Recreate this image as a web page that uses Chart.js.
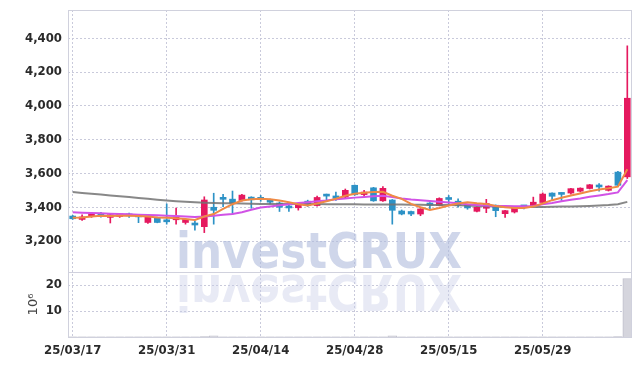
<!DOCTYPE html>
<html>
<head>
<meta charset="utf-8">
<script src="https://cdn.jsdelivr.net/npm/chart.js@4.4.1/dist/chart.umd.min.js"></script>
<style>
  html, body { margin: 0; padding: 0; background: #fff; }
  #wrap { width: 642px; height: 366px; }
</style>
</head>
<body>
<div id="wrap"><canvas id="chart"></canvas></div>
<script>
// ---- data ----
const dates = [
  '25/03/17', '25/03/18', '25/03/19', '25/03/20', '25/03/21', '25/03/24', '25/03/25', '25/03/26', '25/03/27', '25/03/28',
  '25/03/31', '25/04/01', '25/04/02', '25/04/03', '25/04/04', '25/04/07', '25/04/08', '25/04/09', '25/04/10', '25/04/11',
  '25/04/14', '25/04/15', '25/04/16', '25/04/17', '25/04/18', '25/04/21', '25/04/22', '25/04/23', '25/04/24', '25/04/25',
  '25/04/28', '25/04/29', '25/04/30', '25/05/02', '25/05/07', '25/05/08', '25/05/09', '25/05/12', '25/05/13', '25/05/14',
  '25/05/15', '25/05/16', '25/05/19', '25/05/20', '25/05/21', '25/05/22', '25/05/23', '25/05/26', '25/05/27', '25/05/28',
  '25/05/29', '25/05/30', '25/06/02', '25/06/04', '25/06/05', '25/06/09', '25/06/10', '25/06/11', '25/06/12', '25/06/13'
];

const opens = [
  3348, 3328, 3345, 3360, 3340, 3345, 3352, 3346, 3310, 3340,
  3325, 3326, 3310, 3305, 3285, 3400, 3450, 3448, 3440, 3460,
  3458, 3435, 3425, 3404, 3397, 3436, 3410, 3470, 3467, 3460,
  3530, 3475, 3515, 3438, 3443, 3378, 3375, 3360, 3425, 3410,
  3450, 3436, 3412, 3376, 3394, 3412, 3362, 3372, 3405, 3408,
  3428, 3484, 3480, 3484, 3495, 3511, 3524, 3500, 3608, 3580
];
const highs = [
  3352, 3355, 3366, 3370, 3360, 3364, 3365, 3350, 3350, 3342,
  3420, 3395, 3330, 3320, 3462, 3483, 3477, 3496, 3476, 3462,
  3470, 3448, 3432, 3415, 3420, 3442, 3466, 3478, 3490, 3508,
  3532, 3500, 3518, 3522, 3446, 3384, 3378, 3392, 3428, 3456,
  3470, 3450, 3416, 3402, 3447, 3414, 3382, 3404, 3412, 3460,
  3485, 3486, 3486, 3512, 3515, 3535, 3540, 3527, 3612, 4355
];
const lows = [
  3328, 3322, 3340, 3342, 3307, 3340, 3340, 3309, 3305, 3308,
  3300, 3300, 3300, 3265, 3250, 3300, 3404, 3358, 3436, 3394,
  3435, 3420, 3375, 3375, 3383, 3405, 3406, 3440, 3440, 3456,
  3470, 3462, 3435, 3434, 3300, 3355, 3350, 3350, 3392, 3408,
  3420, 3400, 3388, 3372, 3368, 3344, 3340, 3366, 3390, 3404,
  3424, 3439, 3440, 3478, 3490, 3508, 3495, 3496, 3528, 3570
];
const closes = [
  3332, 3343, 3360, 3348, 3356, 3360, 3349, 3343, 3348, 3310,
  3314, 3343, 3328, 3295, 3443, 3382, 3447, 3425, 3472, 3444,
  3447, 3430, 3400, 3396, 3417, 3412, 3458, 3466, 3453, 3500,
  3474, 3490, 3438, 3512, 3382, 3360, 3360, 3390, 3412, 3452,
  3446, 3412, 3396, 3400, 3422, 3380, 3380, 3402, 3402, 3430,
  3478, 3465, 3476, 3510, 3513, 3533, 3520, 3525, 3530, 4045
];

// moving averages as drawn
const ma5 = [
  3338, 3340, 3345, 3350, 3348, 3350, 3350, 3348, 3345, 3340,
  3338, 3335, 3330, 3325, 3345, 3360, 3390, 3418, 3440, 3447,
  3450, 3447, 3440, 3430, 3418, 3410, 3422, 3435, 3450, 3468,
  3480, 3486, 3490, 3492, 3468, 3450, 3420, 3400, 3384, 3396,
  3410, 3422, 3430, 3424, 3420, 3408, 3400, 3396, 3396, 3404,
  3422, 3442, 3456, 3470, 3482, 3495, 3505, 3512, 3522, 3625
];
const ma20 = [
  3370, 3368, 3366, 3364, 3362, 3360, 3358, 3356, 3354, 3352,
  3350, 3348, 3345, 3342, 3345, 3350, 3355, 3360, 3370, 3385,
  3398, 3405, 3412, 3418, 3425, 3430, 3435, 3440, 3447, 3452,
  3457, 3461, 3465, 3468, 3460, 3452, 3446, 3442, 3437, 3432,
  3428, 3424, 3418, 3414, 3410, 3408, 3407, 3406, 3406, 3408,
  3418, 3425, 3435, 3445, 3452, 3462, 3470, 3478, 3488, 3560
];
const ma60 = [
  3490, 3485, 3480, 3475, 3470, 3465, 3460, 3455, 3450, 3445,
  3440, 3436, 3432, 3429, 3427, 3425, 3424, 3423, 3422, 3421,
  3420, 3420, 3420, 3420, 3419, 3419, 3419, 3418, 3418, 3418,
  3418, 3417, 3417, 3417, 3416, 3416, 3415, 3415, 3414, 3414,
  3414, 3412, 3410, 3408, 3406, 3404, 3403, 3402, 3402, 3402,
  3402, 3403, 3404, 3405, 3406, 3408, 3410, 3413, 3418, 3432
];

// volume, in millions
const volumes = [
  0.08, 0.06, 0.07, 0.05, 0.09, 0.06, 0.05, 0.07, 0.08, 0.06,
  0.09, 0.08, 0.06, 0.1, 0.12, 0.45, 0.1, 0.09, 0.07, 0.06,
  0.05, 0.06, 0.07, 0.05, 0.06, 0.07, 0.08, 0.06, 0.07, 0.09,
  0.1, 0.07, 0.09, 0.1, 0.45, 0.08, 0.06, 0.07, 0.06, 0.08,
  0.07, 0.06, 0.05, 0.06, 0.08, 0.07, 0.06, 0.07, 0.05, 0.08,
  0.1, 0.07, 0.06, 0.08, 0.07, 0.08, 0.06, 0.07, 0.12, 22.5
];

// ---- styles ----
const UP = '#e5195f';
const DOWN = '#2d92c6';
const GRID = '#c9cadb';
const FRAME = '#d0d1dd';
const TICK_FONT = { family: "'DejaVu Sans Condensed', 'Liberation Sans Narrow', sans-serif", size: 13, weight: 'bold' };

const candleColors = closes.map((c, i) => c >= opens[i] ? UP : DOWN);

// fixed-width left axes, no extra padding from tick labels
const fitLeft = s => { s.width = 68; s.paddingTop = 0; s.paddingBottom = 0; };

// watermark with mirrored reflection
const watermark = {
  id: 'watermark',
  beforeDatasetsDraw(chart) {
    const ctx = chart.ctx;
    const text = 'investCRUX';
    ctx.save();
    ctx.font = "bold 50px 'DejaVu Sans', sans-serif";
    const sx = 286 / ctx.measureText(text).width;
    ctx.translate(176, 268);
    ctx.scale(sx, 1);
    ctx.textBaseline = 'alphabetic';
    ctx.fillStyle = 'rgba(175,186,220,0.6)';
    ctx.fillText(text, 0, 0);
    ctx.translate(0, 7);
    ctx.scale(1, -1);
    ctx.fillStyle = 'rgba(200,206,230,0.42)';
    ctx.fillText(text, 0, 0);
    ctx.restore();
  }
};

// pane outlines
const paneFrame = {
  id: 'paneFrame',
  afterDraw(chart) {
    const ctx = chart.ctx;
    const { left, right } = chart.chartArea;
    ctx.save();
    ctx.strokeStyle = FRAME;
    ctx.lineWidth = 1;
    ['y', 'yv'].forEach(id => {
      const s = chart.scales[id];
      ctx.strokeRect(Math.round(left) + 0.5, Math.round(s.top) + 0.5, Math.round(right - left) - 1, Math.round(s.bottom - s.top));
    });
    ctx.restore();
  }
};

const ctx = document.getElementById('chart');
new Chart(ctx, {
  type: 'bar',
  data: {
    labels: dates,
    datasets: [
      {
        type: 'line', label: 'MA5', data: ma5, yAxisID: 'y',
        borderColor: '#ef8a45', borderWidth: 2, pointRadius: 0, tension: 0, order: 0
      },
      {
        type: 'line', label: 'MA20', data: ma20, yAxisID: 'y',
        borderColor: '#d152e6', borderWidth: 2, pointRadius: 0, tension: 0, order: 0
      },
      {
        type: 'line', label: 'MA60', data: ma60, yAxisID: 'y',
        borderColor: 'rgba(115,115,115,0.85)', borderWidth: 2, pointRadius: 0, tension: 0, order: 0
      },
      {
        label: 'body', data: opens.map((o, i) => [o, closes[i]]), yAxisID: 'y',
        backgroundColor: candleColors, borderColor: candleColors, borderWidth: 0,
        barThickness: 6, minBarLength: 2, grouped: false, order: 1
      },
      {
        label: 'wick', data: lows.map((l, i) => [l, highs[i]]), yAxisID: 'y',
        backgroundColor: candleColors, borderWidth: 0,
        barThickness: 1, grouped: false, order: 2
      },
      {
        label: 'volume', data: volumes, yAxisID: 'yv',
        backgroundColor: '#d5d5dd', borderColor: '#c0c0cc', borderWidth: 1,
        barThickness: 9, grouped: false, order: 3
      }
    ]
  },
  options: {
    responsive: true,
    maintainAspectRatio: false,
    animation: false,
    layout: { padding: { top: 10, right: 10, bottom: 0, left: 0 } },
    plugins: {
      legend: { display: false },
      tooltip: { enabled: false }
    },
    scales: {
      x: {
        offset: true,
        border: { display: false, dash: [2, 2] },
        grid: { color: GRID, drawTicks: false, offset: false },
        ticks: {
          autoSkip: false, maxRotation: 0, padding: 6, color: '#2a2a2a', font: TICK_FONT,
          callback: (v, i) => i % 10 === 0 ? dates[i] : null
        },
        afterFit: s => { s.height = 29; }
      },
      // volume pane is listed first so the stack puts it underneath
      yv: {
        position: 'left', stack: 'pane', stackWeight: 65,
        min: 0, max: 25,
        border: { display: false, dash: [2, 2] },
        grid: { color: GRID, drawTicks: false },
        ticks: {
          stepSize: 10, includeBounds: false, padding: 6, color: '#2a2a2a', font: TICK_FONT,
          callback: v => v === 0 ? null : v
        },
        title: {
          display: true, text: '10\u2076', color: '#444',
          font: { family: "'DejaVu Sans', sans-serif", size: 13 },
          padding: { top: 26, bottom: 0 }
        },
        afterFit: fitLeft
      },
      y: {
        position: 'left', stack: 'pane', stackWeight: 262,
        min: 3017, max: 4567,
        border: { display: false, dash: [2, 2] },
        grid: { color: GRID, drawTicks: false },
        ticks: { stepSize: 200, includeBounds: false, padding: 6, color: '#2a2a2a', font: TICK_FONT },
        afterFit: fitLeft
      }
    }
  },
  plugins: [watermark, paneFrame]
});
</script>
</body>
</html>
